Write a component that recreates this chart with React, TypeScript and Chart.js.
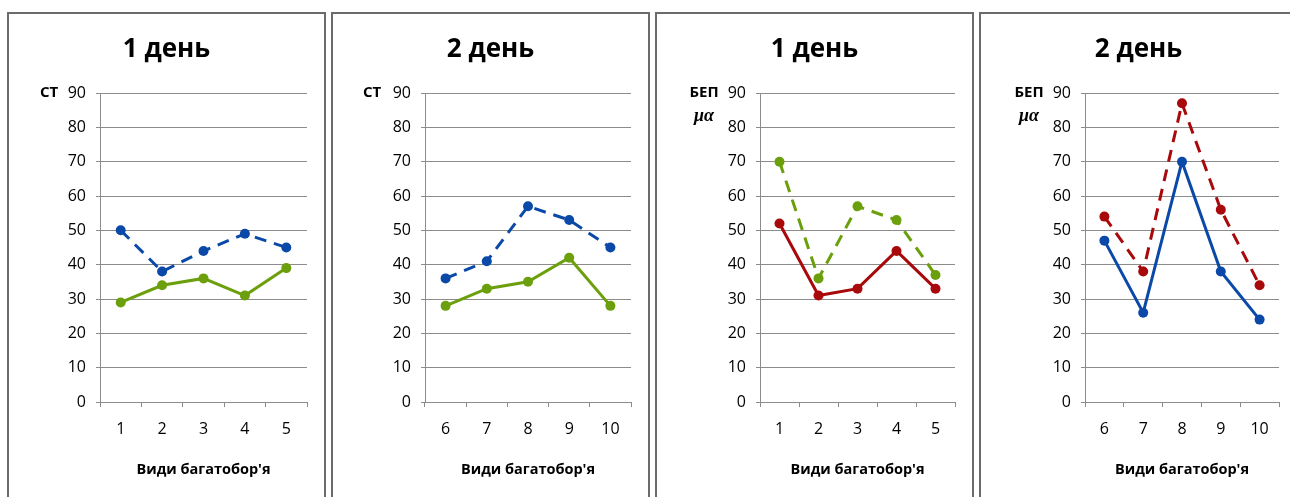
import React, { useEffect, useRef } from "react";
import { Chart, registerables } from "chart.js";

Chart.register(...registerables);

// ---- data ----
const categoriesA = ["1", "2", "3", "4", "5"];
const categoriesB = ["6", "7", "8", "9", "10"];
const yTicks = [0, 10, 20, 30, 40, 50, 60, 70, 80, 90];

const st1Dashed = [50, 38, 44, 49, 45];
const st1Solid = [29, 34, 36, 31, 39];
const st2Dashed = [36, 41, 57, 53, 45];
const st2Solid = [28, 33, 35, 42, 28];
const bep1Dashed = [70, 36, 57, 53, 37];
const bep1Solid = [52, 31, 33, 44, 33];
const bep2Dashed = [54, 38, 87, 56, 34];
const bep2Solid = [47, 26, 70, 38, 24];

const titles = ["1 день", "2 день", "1 день", "2 день"];
const xAxisTitle = "Види багатобор'я";

const BLUE = "#0B49A8";
const GREEN = "#6B9F0C";
const RED = "#A8090B";
const GRID = "#8c8c8c";

type PanelCfg = {
  left: number;
  title: string;
  labels: string[];
  dashed: number[];
  solid: number[];
  dashedColor: string;
  solidColor: string;
  yLabel: string[];
  yLabelX: number;
  axisX: number;
};

const panels: PanelCfg[] = [
  { left: 7, title: titles[0], labels: categoriesA, dashed: st1Dashed, solid: st1Solid, dashedColor: BLUE, solidColor: GREEN, yLabel: ["СТ"], yLabelX: 40, axisX: 91 },
  { left: 331, title: titles[1], labels: categoriesB, dashed: st2Dashed, solid: st2Solid, dashedColor: BLUE, solidColor: GREEN, yLabel: ["СТ"], yLabelX: 39, axisX: 92 },
  { left: 655, title: titles[2], labels: categoriesA, dashed: bep1Dashed, solid: bep1Solid, dashedColor: GREEN, solidColor: RED, yLabel: ["БЕП", "μα"], yLabelX: 47, axisX: 103 },
  { left: 979, title: titles[3], labels: categoriesB, dashed: bep2Dashed, solid: bep2Solid, dashedColor: RED, solidColor: BLUE, yLabel: ["БЕП", "μα"], yLabelX: 48, axisX: 104 },
];

const CW = 315;
const CH = 485;
const PLOT_RIGHT = 298;
const PLOT_TOP = 79;
const PLOT_BOTTOM = 388;

const textPlugin = {
  id: "panelText",
  afterDraw(chart: any, _args: any, opts: any) {
    const ctx = chart.ctx;
    const area = chart.chartArea;
    ctx.save();
    ctx.fillStyle = "#000";
    ctx.textAlign = "center";
    ctx.textBaseline = "middle";
    ctx.font = 'bold 26px "Open Sans"';
    ctx.fillText(opts.title, CW / 2, 36);
    (opts.yLabel as string[]).forEach((t: string, i: number) => {
      if (i === 0) ctx.font = 'bold 15px "Open Sans"';
      else ctx.font = 'bold italic 18px "Liberation Serif"';
      ctx.fillText(t, opts.yLabelX, area.top + i * 23);
    });
    ctx.font = 'bold 14.5px "Open Sans"';
    ctx.fillText(opts.xTitle, (area.left + area.right) / 2, 456);
    ctx.restore();
  },
};

function Panel({ cfg }: { cfg: PanelCfg }) {
  const ref = useRef<HTMLCanvasElement | null>(null);
  useEffect(() => {
    if (!ref.current) return;
    const chart = new Chart(ref.current, {
      type: "line",
      data: {
        labels: cfg.labels,
        datasets: [
          {
            data: cfg.solid,
            borderColor: cfg.solidColor,
            backgroundColor: cfg.solidColor,
            pointBackgroundColor: cfg.solidColor,
            pointBorderColor: cfg.solidColor,
            borderWidth: 3,
            pointRadius: 5,
            pointBorderWidth: 0,
            tension: 0,
          },
          {
            data: cfg.dashed,
            borderColor: cfg.dashedColor,
            backgroundColor: cfg.dashedColor,
            pointBackgroundColor: cfg.dashedColor,
            pointBorderColor: cfg.dashedColor,
            borderWidth: 3,
            borderDash: [12, 8],
            pointRadius: 5,
            pointBorderWidth: 0,
            tension: 0,
          },
        ],
      },
      options: {
        responsive: false,
        animation: false,
        layout: { padding: { top: PLOT_TOP, left: 0, right: CW - PLOT_RIGHT, bottom: 0 } },
        plugins: {
          legend: { display: false },
          tooltip: { enabled: false },
          title: { display: false },
          panelText: { title: cfg.title, yLabel: cfg.yLabel, yLabelX: cfg.yLabelX, xTitle: xAxisTitle },
        } as any,
        scales: {
          x: {
            type: "category",
            offset: true,
            grid: { display: true, drawOnChartArea: false, drawTicks: true, tickLength: 5, offset: true, color: GRID },
            border: { display: true, color: GRID, width: 1 },
            ticks: { color: "#000", font: { family: "Open Sans", size: 16 }, padding: 13, maxRotation: 0 },
            afterFit: (s: any) => { s.height = CH - PLOT_BOTTOM; },
          },
          y: {
            min: 0,
            max: 90,
            afterBuildTicks: (s: any) => { s.ticks = yTicks.map((v) => ({ value: v })); },
            grid: { color: GRID, lineWidth: 1, drawTicks: true, tickLength: 4 },
            border: { display: true, color: GRID, width: 1 },
            ticks: { color: "#000", font: { family: "Open Sans", size: 16 }, padding: 10 },
            afterFit: (s: any) => { s.width = cfg.axisX; },
          },
        },
      },
      plugins: [textPlugin],
    } as any);
    return () => chart.destroy();
  }, [cfg]);
  return (
    <div
      style={{
        position: "absolute",
        left: cfg.left,
        top: 12,
        width: 319,
        height: 510,
        boxSizing: "border-box",
        border: "2px solid #6b6b6b",
        background: "#fff",
      }}
    >
      <canvas ref={ref} width={CW} height={CH} style={{ display: "block", width: CW, height: CH }} />
    </div>
  );
}

export default function App() {
  return (
    <div
      style={{
        position: "fixed",
        left: 0,
        top: 0,
        width: 1290,
        height: 497,
        overflow: "hidden",
        background: "#fff",
      }}
    >
      {panels.map((p, i) => (
        <Panel key={i} cfg={p} />
      ))}
    </div>
  );
}
